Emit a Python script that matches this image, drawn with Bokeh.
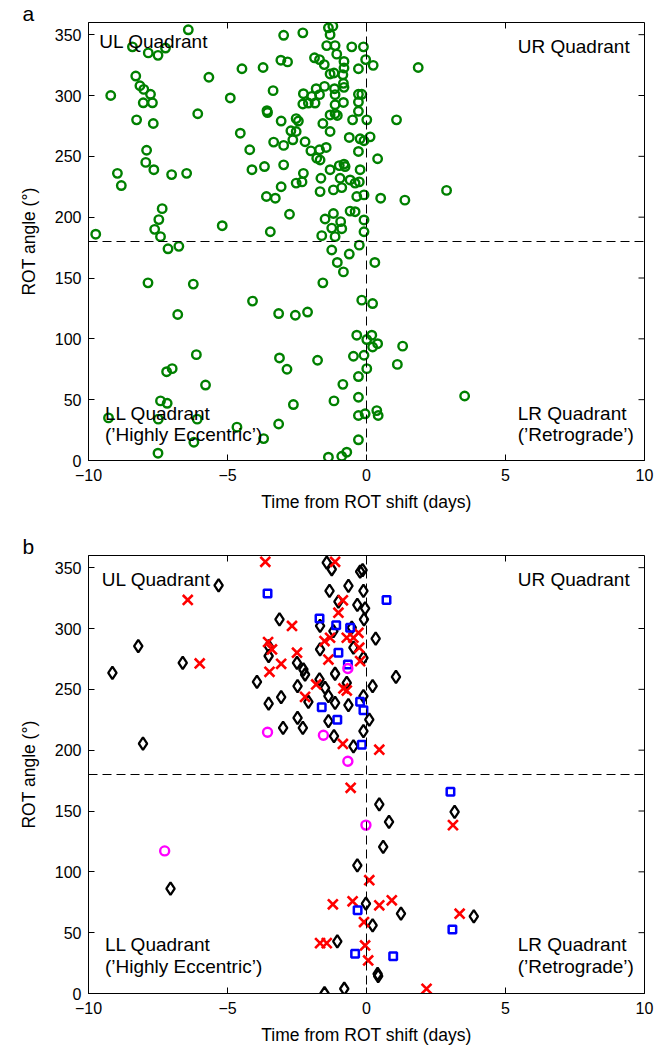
from bokeh.plotting import figure
from bokeh.models import Span, Label, FixedTicker, Range1d
from bokeh.layouts import column
from bokeh.embed import file_html
from bokeh.resources import INLINE

FONT = "Liberation Sans"

# ---------------- data ----------------
x_ticks = [-10, -5, 0, 5, 10]
x_tick_labels = ["\u221210", "\u22125", "0", "5", "10"]
y_ticks = [0, 50, 100, 150, 200, 250, 300, 350]

# Panel a: all events (green circles)
a_time = [-6.41, -8.42, -7.85, -7.50, -7.23, -8.30, -8.15, -8.01, -7.77, -8.03, -7.70, -9.20,
          -5.67, -6.07, -8.27, -7.67, -7.91, -7.94, -7.65, -8.96, -8.82, -7.01, -6.47,
          -7.35, -7.47, -7.62, -7.41, -5.19, -9.74, -7.14, -6.75, -7.86, -6.23, -6.79, -6.12,
          -7.19, -6.99, -5.79, -7.41, -7.17, -9.28, -7.49, -6.09, -6.21, -7.50,
          -1.21, -1.37, -2.98, -2.29, -1.31, -1.43, -1.13, -0.53, -0.11, -1.07, -0.03, -3.08,
          -2.84, -1.87, -1.69, -1.52, -0.81, -0.81, -0.29, -4.48, -3.72, -1.31, -0.85, -1.17,
          -0.83, -0.81, -1.15, -1.51, -1.81, -4.90, -3.36, -2.27, -1.97, -1.69, -1.13, -0.29,
          -0.17, -2.29, -2.09, -1.85, -1.13, -0.83, -0.29, -3.58, -3.56, -1.13, -0.29, -3.07,
          -2.53, -2.45, -1.57, -1.31, -1.05, -0.50, 0.01, -4.54, -2.72, -2.53, -1.31, -4.20,
          -3.34, -2.98, -2.65, -2.21, -2.00, -1.69, -1.45, -1.79, -1.67, -0.62, -0.23, -0.09,
          -0.29, -4.12, -3.67, -2.98, -2.27, -2.53, -2.32, -3.07, -1.64, -1.31, -0.98, -0.81,
          -0.77, -0.95, -0.59, -0.41, -0.26, -0.23, -1.67, -1.19, -0.89, -0.35, -0.09, -3.60,
          -3.28, -2.77, -0.59, -0.41, -0.09, -1.49, -1.19, -0.93, -1.25, -3.46, -0.09, -1.61,
          -1.13, 0.24, 1.86, 1.08, 0.13, 0.40, 2.88, 0.51, 1.38, -0.89,
          -0.26, -1.25, -0.62, -1.05, -0.83, -1.57, -4.10, -3.16, -2.56, -2.12, -0.17, -0.35,
          -0.47, -0.09, -3.13, -2.86, -1.76, -0.29, -0.85, -1.17, -2.63, -0.29, -0.29, -0.05,
          -3.16, -4.66, -3.70, -0.29, -1.37, -0.89, -0.71,
          0.30, 0.22, 0.19, 0.01, 0.40, 0.22, 1.30, 1.11, 0.01, 3.53, 0.37, 0.42]
a_angle = [354, 340, 335, 333, 339, 316, 308, 305, 301, 294, 294, 300,
           315, 285, 280, 277, 255, 245, 239, 236, 226, 235, 236,
           207, 198, 190, 184, 193, 186, 174, 176, 146, 145, 120, 87,
           73, 75.5, 62, 49, 47, 35, 34, 34, 15, 6,
           357, 355.6, 349.5, 351.5, 350, 341, 341, 340, 340, 334, 329.5, 329,
           327.6, 331, 329.5, 325.4, 328, 322.6, 322, 322, 323, 317.7, 317, 318.5,
           310, 306.7, 305.6, 307.5, 305.6, 298, 304, 301.5, 299.3, 300.7, 300.7, 301,
           301, 293, 293.8, 293.8, 292.4, 294.3, 294.6, 287.5, 286, 285, 287, 279,
           281, 279, 277, 284, 283.6, 280, 280, 269, 271, 270.4, 270.4, 255.4,
           261.7, 259, 263.6, 262, 254.5, 255.4, 257.3, 248.5, 247, 265.5, 264.4, 262.8,
           254, 239, 241.6, 243, 236, 228, 229, 225, 232, 239, 242.4, 243.6,
           241.6, 232, 230.6, 228, 229, 239, 221, 222.4, 224.3, 217, 218.3, 217,
           215.6, 202.4, 205, 204.5, 197.7, 198.5, 203, 196.3, 191, 188, 188, 184.8,
           184, 324.8, 323, 280, 266, 248, 222, 215.6, 214, 190.5,
           177, 173, 169.7, 162.8, 155, 146, 131, 120.8, 119.4, 122, 131.8, 103,
           85.7, 86.5, 84.3, 75, 82.4, 69, 62.6, 49, 46, 52, 37, 38.4,
           30, 27.4, 18, 17, 2.7, 3.5, 6.8,
           162.8, 129, 103, 99.4, 96, 93.3, 94, 79, 75.5, 53, 41, 37]

# Panel b: black diamonds
b_diamond_time = [-5.32, -8.21, -9.14, -6.61, -8.04, -1.43, -1.25, -0.23, -0.14, -0.65, -1.33,
                  -0.11, -1.01, -0.33, -0.05, -3.13, -1.67, -0.09, -0.53, -3.52, -3.52, -1.67,
                  -1.19, -0.47, -0.11, -2.50, -2.27, -2.21, -3.94, -1.13, -2.48, -1.69, -1.49,
                  -0.71, -1.37, -1.13, -0.11, -3.52, -3.07, -0.65, -2.09, -2.48, -2.29, -3.00,
                  -1.37, -1.17, -0.11, -0.47, 0.33, 1.06, 0.22, 0.10, -7.05, -0.33, -0.02,
                  -1.05, -1.51, -0.80, 0.46, 0.81, 0.60, 1.24, 0.22, 0.40, 0.42, 3.17, 3.86]
b_diamond_angle = [335.5, 285.6, 263.6, 271.8, 205.4, 354.2, 348.7, 346.8, 347.9, 335, 330.9,
                   330.9, 322.1, 319.4, 316.6, 307.5, 302.1, 307.5, 300.7, 285.6, 277.4, 282.8,
                   297.9, 284.2, 275.9, 271.8, 266.3, 262.2, 256.2, 262.8, 252.6, 258.1, 251.2,
                   255.4, 244.4, 238.9, 244.4, 238.3, 243.6, 237, 239.7, 226.5, 218.3, 218.3,
                   223.8, 211.5, 215.6, 203.2, 291.6, 260.3, 252.6, 225.1, 86.2, 105.4, 73.9,
                   42.8, 0.2, 3.9, 155.4, 141.1, 120.5, 65.6, 56, 16.2, 14.3, 149.3, 63.4]

# Panel b: red crosses
b_cross_time = [-6.43, -6.00, -3.64, -1.13, -0.85, -1.01, -2.68, -3.54, -3.40, -2.50, -1.51,
                -1.31, -0.71, -0.47, -0.26, -0.29, -1.37, -0.23, -3.07, -3.49, -1.81, -2.21,
                -0.83, -0.71, -0.85, 0.46, -0.57, -1.21, -0.50, -0.09, -1.67, -1.43, -0.05,
                0.06, 0.10, 0.46, 0.91, 2.16, 3.11, 3.35]
b_cross_angle = [323.5, 271.3, 354.8, 354.8, 323.2, 313, 302.1, 288.9, 282.8, 280.1, 289.7,
                 292.4, 292.4, 292.4, 284.2, 296.5, 274.5, 273.2, 271, 264.4, 254, 243.8,
                 250.7, 249, 205.1, 200.4, 169.1, 73.3, 75.8, 58.7, 41.4, 41.4, 39.5,
                 27.2, 93.1, 72.5, 76.6, 3.9, 138.4, 65.6]

# Panel b: blue squares
b_square_time = [-3.56, -1.69, -1.09, -0.59, -1.01, -0.67, -0.23, -0.11, -1.61, -1.05, -0.17,
                 0.72, -0.32, -0.41, 0.96, 3.02, 3.09]
b_square_angle = [328.7, 308.3, 302.6, 300.7, 280.1, 270.4, 239.7, 232.9, 235.3, 225.1, 204.5,
                  323.5, 68.4, 32.7, 30.7, 165.8, 52.7]

# Panel b: magenta circles
b_circle_time = [-0.67, -3.56, -1.55, -0.67, -7.26, -0.02]
b_circle_angle = [267.1, 214.7, 212.3, 190.9, 117.2, 138.4]

X_MIN, X_MAX, Y_MIN, Y_MAX = -10, 10, 0, 360
FRAME_W, FRAME_H = 556, 438
TICK_PX = 6


def make_panel(height, top, bottom, letter, title_standoff):
    p = figure(width=665, height=height, x_range=Range1d(X_MIN, X_MAX),
               y_range=Range1d(Y_MIN, Y_MAX), title=letter,
               output_backend="svg", toolbar_location=None,
               min_border_left=88, min_border_right=21,
               min_border_top=top, min_border_bottom=bottom)
    p.background_fill_color = "white"
    p.border_fill_color = "white"
    p.outline_line_color = "black"
    p.outline_line_width = 1
    p.grid.visible = False

    p.title.align = "left"
    p.title.offset = -66
    p.title.standoff = title_standoff
    p.title.text_font = FONT
    p.title.text_font_size = "21px"
    p.title.text_font_style = "normal"
    p.title.text_color = "black"

    for ax in (p.xaxis[0], p.yaxis[0]):
        ax.major_tick_in = TICK_PX
        ax.major_tick_out = 0
        ax.minor_tick_line_color = None
        ax.axis_line_color = "black"
        ax.major_tick_line_color = "black"
        ax.major_label_text_font = FONT
        ax.major_label_text_font_size = "16px"
        ax.major_label_text_color = "black"
        ax.axis_label_text_font = FONT
        ax.axis_label_text_font_size = "17.5px"
        ax.axis_label_text_font_style = "normal"
        ax.axis_label_text_color = "black"

    p.xaxis.ticker = FixedTicker(ticks=x_ticks)
    p.xaxis.major_label_overrides = {t: l for t, l in zip(x_ticks, x_tick_labels)}
    p.xaxis.axis_label = "Time from ROT shift (days)"
    p.xaxis.major_label_standoff = 8
    p.xaxis.axis_label_standoff = 8

    p.yaxis.ticker = FixedTicker(ticks=y_ticks)
    p.yaxis.axis_label = "ROT angle (\u00b0)"
    p.yaxis.major_label_standoff = 7
    p.yaxis.axis_label_standoff = 13

    # mirrored tick marks on the top and right edges of the box
    dy = TICK_PX * (Y_MAX - Y_MIN) / FRAME_H
    dx = TICK_PX * (X_MAX - X_MIN) / FRAME_W
    p.segment(x0=x_ticks, y0=[Y_MAX] * len(x_ticks), x1=x_ticks,
              y1=[Y_MAX - dy] * len(x_ticks), line_color="black", line_width=1)
    p.segment(x0=[X_MAX] * len(y_ticks), y0=y_ticks, x1=[X_MAX - dx] * len(y_ticks),
              y1=y_ticks, line_color="black", line_width=1)

    p.add_layout(Span(location=180, dimension="width", line_color="black",
                      line_dash="9 5", line_width=1))
    p.add_layout(Span(location=0, dimension="height", line_color="black",
                      line_dash="9 5", line_width=1))
    return p


def quadrant_labels(p, ul_y, ur_y, ll_y1, ll_y2, lr_y1, lr_y2, ul_x):
    kw = dict(text_font=FONT, text_font_size="19px", text_color="black",
              text_baseline="alphabetic")
    p.add_layout(Label(x=ul_x, y=ul_y, text="UL Quadrant", **kw))
    p.add_layout(Label(x=5.44, y=ur_y, text="UR Quadrant", **kw))
    p.add_layout(Label(x=-9.41, y=ll_y1, text="LL Quadrant", **kw))
    p.add_layout(Label(x=-9.41, y=ll_y2, text="(\u2019Highly Eccentric\u2019)", **kw))
    p.add_layout(Label(x=5.44, y=lr_y1, text="LR Quadrant", **kw))
    p.add_layout(Label(x=5.44, y=lr_y2, text="(\u2019Retrograde\u2019)", **kw))


pa = make_panel(530, 22, 70, "a", -4)
quadrant_labels(pa, 344.0, 340.3, 38.8, 21.3, 38.8, 21.3, -9.61)
pa.scatter(a_time, a_angle, marker="circle", size=8.5, line_width=2.4,
           line_color="#008000", fill_color=None)

pb = make_panel(518, 25, 55, "b", -4)
quadrant_labels(pb, 340.5, 340.5, 40.5, 22.0, 40.5, 22.0, -9.52)
pb.scatter(b_diamond_time, b_diamond_angle, marker="diamond", size=12.5, line_width=2.3,
           line_color="black", fill_color=None)
pb.scatter(b_cross_time, b_cross_angle, marker="x", size=14, line_width=2.6,
           line_color="#ff0000")
pb.scatter(b_square_time, b_square_angle, marker="square", size=7.5, line_width=2.5,
           line_color="#0000ff", fill_color=None)
pb.scatter(b_circle_time, b_circle_angle, marker="circle", size=9, line_width=2.4,
           line_color="#ff00ff", fill_color=None)

layout = column(pa, pb, spacing=0)
open("out.html", "w").write(file_html(layout, INLINE))
